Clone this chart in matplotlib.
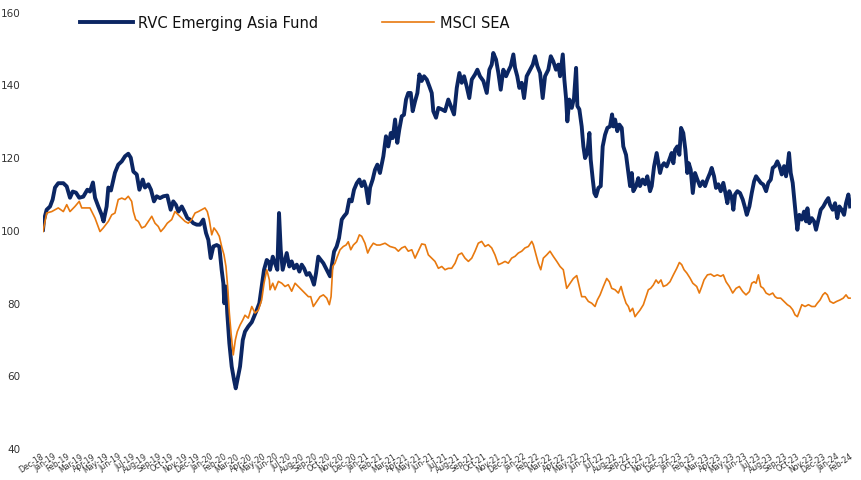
import matplotlib
matplotlib.use("Agg")
import matplotlib.pyplot as plt

# ---- data: time in months after the Dec-18 month tick, index value (start = 100)
fund_t = [0.00,0.08,0.28,0.54,0.74,0.92,1.17,1.56,1.82,2.07,2.28,2.53,2.78,3.09,3.40,3.60,3.83,3.99,4.24,4.50,
4.64,4.88,5.01,5.21,5.52,5.77,6.04,6.29,6.54,6.73,6.93,7.19,7.39,7.65,7.82,8.08,8.28,8.51,8.72,8.97,
9.23,9.53,9.79,9.99,10.20,10.38,10.64,10.84,11.07,11.27,11.53,11.79,12.04,12.29,12.50,12.68,12.86,13.06,13.32,13.52,
13.70,13.83,13.90,14.03,14.13,14.29,14.47,14.65,14.78,14.93,15.11,15.32,15.49,15.74,16.01,16.18,16.39,16.59,16.77,16.95,
17.16,17.36,17.41,17.62,17.79,17.97,18.10,18.23,18.38,18.56,18.69,18.89,19.07,19.25,19.46,19.66,19.84,20.02,20.22,20.42,
20.61,20.78,20.94,21.11,21.30,21.50,21.70,21.88,22.01,22.16,22.32,22.52,22.70,22.91,23.08,23.29,23.49,23.67,23.85,24.06,
24.26,24.44,24.62,24.77,24.95,25.08,25.28,25.46,25.64,25.84,26.10,26.30,26.48,26.67,26.82,27.00,27.17,27.32,27.51,27.68,
27.84,28.01,28.20,28.35,28.53,28.71,28.86,29.04,29.22,29.43,29.63,29.81,29.93,30.14,30.32,30.58,30.83,31.08,31.27,31.52,
31.73,31.93,32.11,32.29,32.49,32.69,32.88,33.13,33.31,33.51,33.77,34.03,34.23,34.41,34.53,34.74,34.92,35.10,35.30,35.51,
35.68,35.87,36.07,36.20,36.37,36.53,36.71,36.89,37.09,37.35,37.56,37.73,37.91,38.12,38.32,38.50,38.75,38.94,39.13,39.34,
39.52,39.65,39.86,39.98,40.11,40.21,40.36,40.55,40.72,40.88,40.98,41.13,41.31,41.44,41.57,41.74,41.90,42.00,42.16,42.28,
42.41,42.59,42.77,42.92,43.10,43.28,43.48,43.64,43.74,43.87,44.04,44.20,44.38,44.50,44.71,44.89,45.02,45.15,45.27,45.48,
45.65,45.78,45.99,46.17,46.34,46.55,46.68,46.86,47.06,47.19,47.32,47.45,47.62,47.83,48.03,48.21,48.34,48.47,48.64,48.80,
48.93,49.10,49.26,49.41,49.52,49.67,49.83,50.00,50.18,50.38,50.59,50.77,50.94,51.15,51.28,51.46,51.61,51.79,51.97,52.17,
52.33,52.48,52.63,52.82,52.94,53.07,53.25,53.45,53.66,53.84,53.97,54.17,54.35,54.53,54.68,54.86,55.04,55.24,55.45,55.62,
55.81,55.96,56.14,56.31,56.47,56.65,56.83,56.98,57.08,57.21,57.34,57.49,57.59,57.75,57.85,58.00,58.19,58.36,58.52,58.62,
58.77,58.95,59.13,59.28,59.46,59.64,59.84,60.05,60.22,60.35,60.56,60.74,60.91,61.07,61.25,61.43,61.58,61.76,61.89]
fund_v = [100,102.8,105.5,106.4,108.3,111.6,112.8,112.8,111.9,108.8,110.5,110.2,108.8,109.1,111,110.5,113,108.8,106.4,104.1,
102.3,106.4,111.6,110.8,115.7,117.9,118.8,120.2,120.9,119.8,116,115.2,111,113.8,111.6,112.5,111,107.8,109.2,108.7,
109.2,109.4,105.5,107.8,106.8,105,106.4,105,103.2,102.8,101.8,101.4,101.4,102.8,99.1,97.2,92.2,95.4,95.8,95.4,
89,85.3,79.8,84.4,77.1,68.8,62.4,58.7,56.4,59.2,62.4,69.7,72,73.4,74.6,76.1,77.9,79.8,84.4,89,
91.7,91,89,92.6,90.8,89,104.6,94.5,89,91.7,93.6,89.9,91.3,89.4,90.4,88.5,90.4,89.4,87.6,88.1,
86.7,84.9,88.1,92.6,91.7,90.8,89.4,88.1,87.2,90.4,94,95.4,97.7,102.8,103.7,104.6,108.3,107.8,111,112.8,
113.8,112,113.3,111.6,107.3,111.6,113.8,116.5,117.9,115.6,120.2,125.7,122.9,126.6,125.2,130.3,123.9,127.5,131.2,131.6,
135.8,137.6,137.6,132.6,135.3,137.6,142.7,140.9,142.2,141.3,139.4,137.6,132.6,130.8,133.5,133.1,132.6,135.8,134,131.7,
139,143.1,140.4,142.2,139.4,136.2,141.3,142.7,144,142.2,140.9,137.6,144,145.4,148.6,146.8,143.1,138.5,144,142.2,
143.6,145,148.2,144.5,142.2,139,140.4,136.2,142.2,144,145.4,147.7,145,143.1,136.2,142.2,144,147.7,146.3,144,
145.4,142.2,148.2,141.3,136.2,129.8,135.8,133.5,136.2,144.5,134,133.1,128.4,122.9,119.7,121.1,126.6,119.3,113.8,110.1,
109.2,111.5,112,122.9,126.1,128,128.4,131.7,128.4,130.3,127.1,128.9,128,122.9,120.6,115.6,112,115.6,110.6,112,
114.2,112,113.8,112.5,114.7,110.6,112,117.4,121.1,118.3,115.6,117.4,118.3,117.4,119.3,121.1,118.3,122,122.9,120.6,
128,126.6,122,115.6,118.3,116.5,110.1,115.6,113.8,112,113.3,112,113.8,115.6,117,114.7,111.5,112.5,110.6,112.9,
110.1,107.3,110.6,108.8,105.5,109.7,110.6,110.1,108.3,106,104.1,106.4,110.1,113.3,114.7,113.8,112.9,112.4,110.6,112.9,
113.8,117,117.5,118.8,117.5,115.2,117.5,114.7,117,121.1,115.6,112.9,109.2,103.2,100,104.1,102.8,105,102.3,105.9,
101.8,103.2,102.3,100,102.8,105.5,106.4,107.8,108.7,106.9,105.5,107.3,103.2,106.4,105.5,104.1,107.3,109.7,106.4]

msci_t = [0.00,0.28,0.67,0.92,1.17,1.56,1.82,2.07,2.45,2.78,2.97,3.35,3.60,3.99,4.37,4.62,5.01,5.27,5.52,5.77,
6.04,6.29,6.54,6.80,6.93,7.11,7.31,7.57,7.82,8.08,8.34,8.59,8.84,9.03,9.28,9.53,9.87,10.12,10.38,10.64,
10.89,11.14,11.40,11.66,11.91,12.17,12.42,12.60,12.75,12.94,13.11,13.32,13.52,13.70,13.88,14.03,14.16,14.29,14.42,14.59,
14.75,14.90,15.11,15.32,15.49,15.74,16.01,16.26,16.51,16.77,16.95,17.16,17.36,17.41,17.62,17.79,18.05,18.31,18.56,18.81,
19.07,19.33,19.58,19.84,20.09,20.35,20.53,20.73,20.99,21.24,21.50,21.76,21.96,22.09,22.22,22.39,22.57,22.78,23.03,23.24,
23.41,23.60,23.80,24.06,24.26,24.44,24.69,24.90,25.08,25.33,25.59,25.84,26.23,26.61,27.00,27.25,27.51,27.76,28.01,28.28,
28.53,28.78,29.04,29.30,29.55,29.81,30.06,30.32,30.58,30.83,31.08,31.34,31.60,31.85,32.11,32.36,32.62,32.88,33.13,33.38,
33.64,33.90,34.15,34.41,34.66,34.92,35.18,35.43,35.68,35.94,36.20,36.45,36.71,36.96,37.22,37.48,37.60,37.81,37.98,38.17,
38.37,38.63,38.88,39.13,39.40,39.65,39.90,40.16,40.42,40.67,40.93,41.13,41.31,41.57,41.82,42.08,42.33,42.51,42.72,42.97,
43.23,43.43,43.61,43.87,44.12,44.33,44.50,44.71,44.89,45.02,45.22,45.40,45.58,45.78,46.04,46.24,46.42,46.60,46.80,47.01,
47.19,47.39,47.57,47.83,48.08,48.34,48.60,48.80,48.98,49.16,49.37,49.62,49.83,50.13,50.33,50.52,50.69,50.95,51.21,51.46,
51.71,51.97,52.17,52.38,52.63,52.89,53.15,53.40,53.66,53.91,54.17,54.35,54.53,54.68,54.86,55.04,55.24,55.45,55.70,55.96,
56.14,56.31,56.57,56.83,57.08,57.29,57.49,57.67,57.85,58.00,58.19,58.44,58.70,58.95,59.20,59.38,59.59,59.80,59.97,60.15,
60.35,60.61,60.86,61.12,61.37,61.58,61.76,61.89]
msci_v = [99.5,104.6,105,105.5,106,105,106.9,105,106.4,107.8,106,106,106,103.2,99.5,100.5,102.3,104.1,104.6,108.3,
108.7,108.3,109.2,107.8,105,102.8,102.3,100.5,100.9,102.3,103.7,101.8,100.9,99.5,100.5,101.8,102.8,105,104.1,103.2,
102.3,101.8,102.8,104.6,105,105.5,106,105,102.8,98.6,100.5,99.5,98.2,95.4,93.1,89.9,84.4,77.1,71.6,65.6,
69.7,72,73.8,75.2,76.5,75.7,78.9,77.1,77.9,80.7,85.3,89,86.2,83.5,85.3,83.5,85.8,85.3,84.4,84.9,
83.1,85.3,84.4,83.5,82.6,81.6,81.6,78.9,80.3,81.6,82.1,81.2,79.4,81.6,89.9,90.8,92.6,94.5,95.4,95.8,
96.7,94.5,95.8,96.7,98.6,98.2,96.3,93.6,95,96.3,95.8,95.8,96.3,95.4,95,94.1,95,95.4,94.1,94.5,
92.2,94.1,96.1,95.9,93.1,92.2,91.3,89.4,89.9,89,89.4,89.4,90.8,93.1,93.6,92.2,91.3,92.2,94.1,96.3,
96.8,95.4,95.9,95,93.1,90.4,90.8,91.3,90.8,92.2,92.7,93.6,94.1,95,95.4,96.8,95.9,93.1,90.8,89,
92.2,93.1,94.1,92.7,91.3,89.9,89,83.9,85.3,86.6,87.4,84.4,81.6,81.6,80.3,79.8,78.9,80.7,82.1,84.4,
86.6,85.7,83.9,83.5,82.6,84.4,82.1,79.8,78.9,77.5,78.4,76.1,77,77.9,79.4,81.6,83.5,83.9,84.8,86.2,
85.3,86.2,84.4,84.8,85.7,87.6,89.4,91,90.4,89,88.1,86.7,85.3,84.4,82.6,84.4,86.2,87.6,87.8,87.2,
87.6,87.2,87.6,85.7,84.4,82.6,83.9,84.4,83,82.1,83,85.3,85.7,85.3,87.6,84.4,83.9,82.6,82.1,82.6,
81.6,81.2,81.2,80.3,79.4,78.9,78,76.6,76.1,77.5,79.4,78.9,79.4,78.9,78.9,79.8,80.7,82.1,82.7,82.1,
80.3,79.8,80.3,80.7,81.2,82.1,81.2,81.2]

month_labels = ["Dec-18","Jan-19","Feb-19","Mar-19","Apr-19","May-19","Jun-19","Jul-19","Aug-19","Sep-19",
"Oct-19","Nov-19","Dec-19","Jan-20","Feb-20","Mar-20","Apr-20","May-20","Jun-20","Jul-20","Aug-20","Sep-20",
"Oct-20","Nov-20","Dec-20","Jan-21","Feb-21","Mar-21","Apr-21","May-21","Jun-21","Jul-21","Aug-21","Sep-21",
"Oct-21","Nov-21","Dec-21","Jan-22","Feb-22","Mar-22","Apr-22","May-22","Jun-22","Jul-22","Aug-22","Sep-22",
"Oct-22","Nov-22","Dec-22","Jan-23","Feb-23","Mar-23","Apr-23","May-23","Jun-23","Jul-23","Aug-23","Sep-23",
"Oct-23","Nov-23","Dec-23","Jan-24","Feb-24"]
y_ticks = [40, 60, 80, 100, 120, 140, 160]
series_names = ["RVC Emerging Asia Fund", "MSCI SEA"]

NAVY = "#0B2663"
ORANGE = "#E8790F"
TXT = "#333333"

plt.rcParams["font.family"] = ["DejaVu Sans"]
W, H = 862, 481
fig = plt.figure(figsize=(W / 100, H / 100), dpi=100)
ax = fig.add_axes([43 / W, 1 - 449 / H, (851.5 - 43) / W, (449 - 12.5) / H])

l1, = ax.plot(fund_t, fund_v, color=NAVY, lw=2.8, solid_joinstyle="round", label=series_names[0], zorder=2)
l2, = ax.plot(msci_t, msci_v, color=ORANGE, lw=1.2, solid_joinstyle="round", label=series_names[1], zorder=3)

ax.set_xlim(0, len(month_labels) - 1)
ax.set_ylim(y_ticks[0], y_ticks[-1])
ax.set_yticks(y_ticks)
ax.set_yticklabels([str(v) for v in y_ticks], fontsize=7.5, color=TXT)
ax.set_xticks(range(len(month_labels)))
ax.set_xticklabels(month_labels, fontsize=5.6, color=TXT, rotation=33,
                   ha="right", va="center", rotation_mode="anchor")
ax.tick_params(axis="both", length=0)
ax.tick_params(axis="y", pad=16)
ax.tick_params(axis="x", pad=5)
for s in ax.spines.values():
    s.set_visible(False)

fig.legend(handles=[l1, l2], loc="upper left", bbox_to_anchor=(80 / W, 1 - 16 / H),
           ncol=2, frameon=False, fontsize=10.5, handlelength=3.6, handletextpad=0.35,
           columnspacing=4.4, borderpad=0, borderaxespad=0, labelcolor="#111111")

fig.savefig("out.png", dpi=100)
